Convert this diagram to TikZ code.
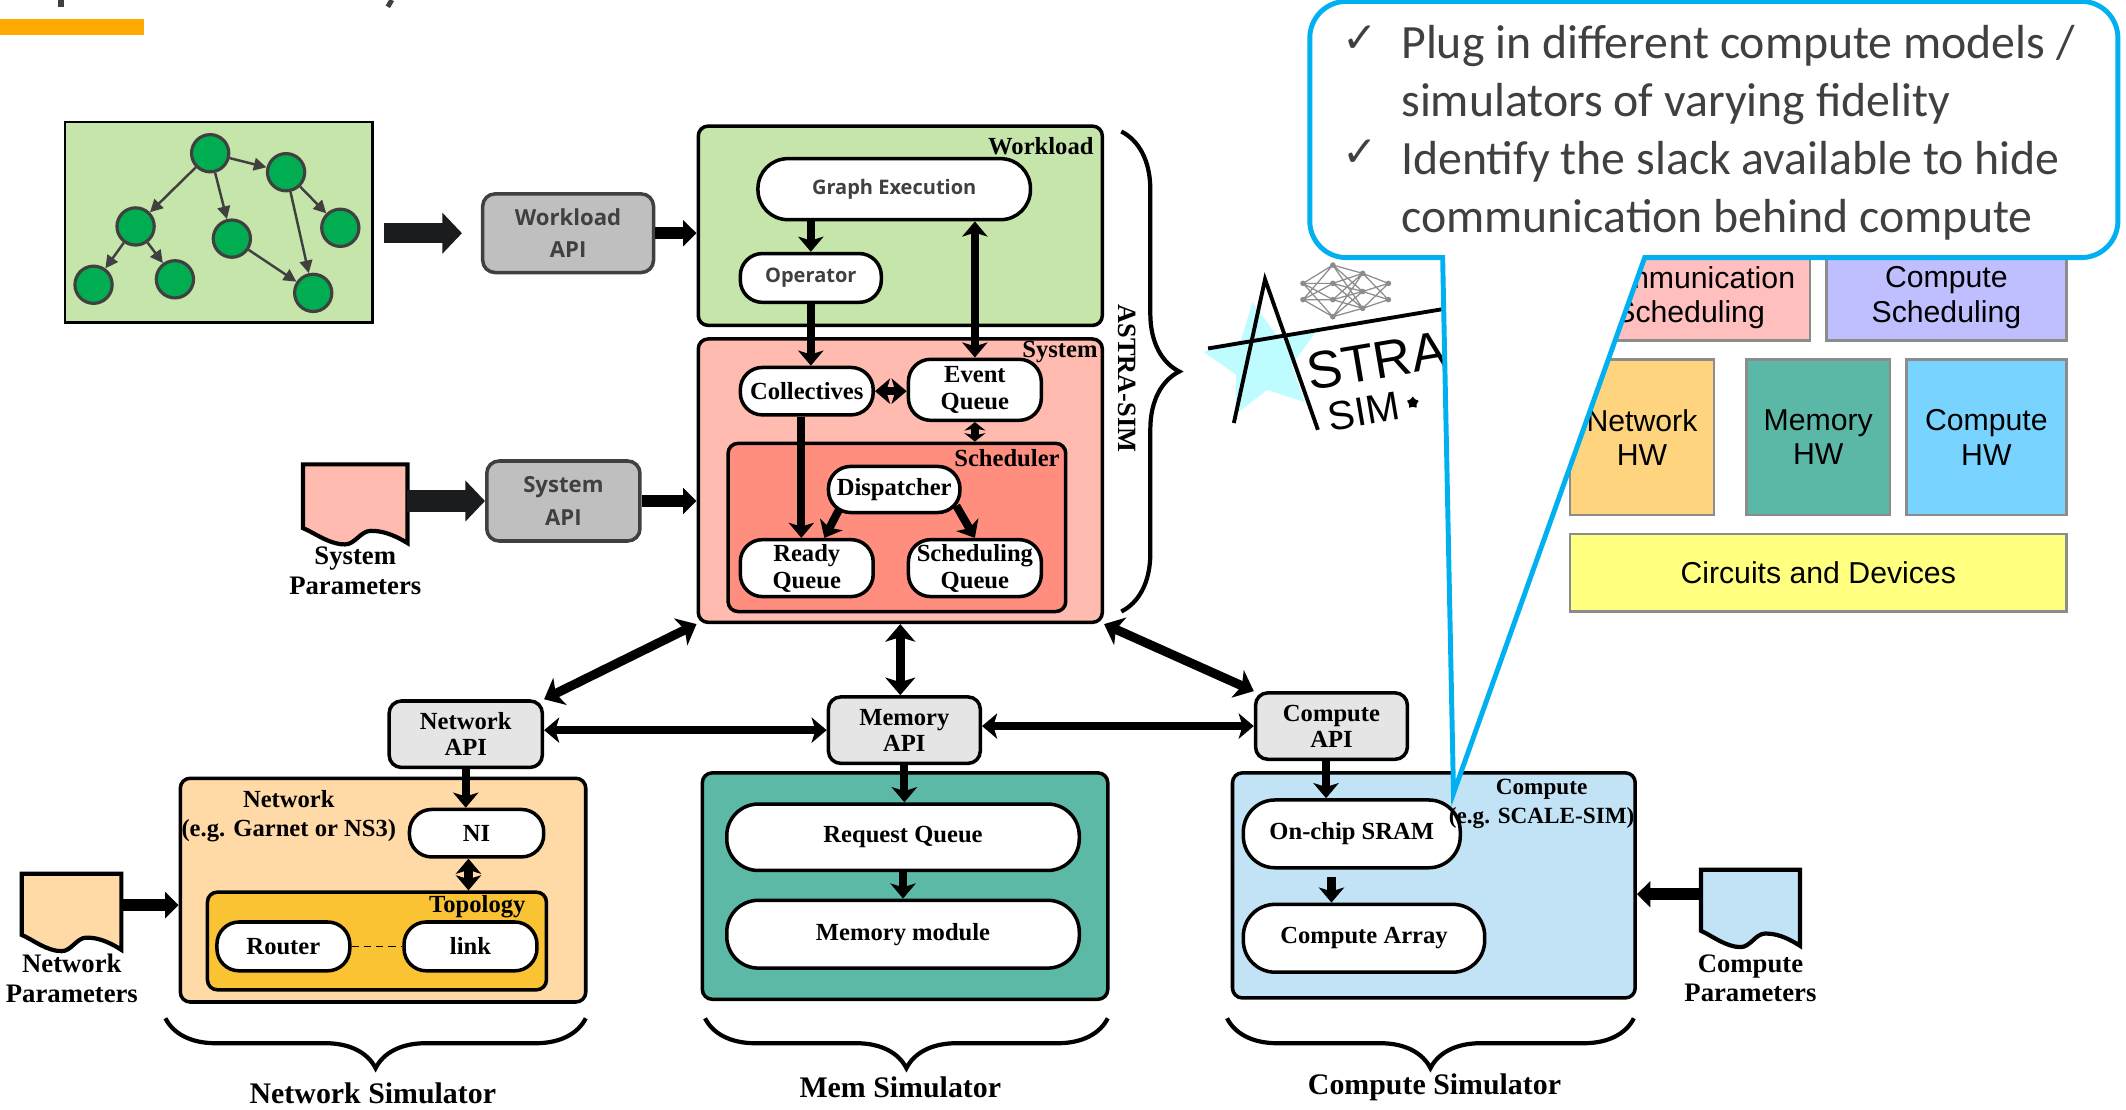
\documentclass[tikz,border=0pt]{standalone}
\usepackage{fontspec}
\setmainfont{Liberation Serif}
\newfontfamily\guifont{Open Sans}
\newfontfamily\notefont{Carlito}
\newfontfamily\layerfont{Liberation Sans}
\newfontfamily\symbfont{DejaVu Sans}
\usepackage{tikz}
\usetikzlibrary{arrows.meta,calc,fit,shapes.geometric,decorations.pathreplacing}

\definecolor{wlgreen}{HTML}{C5E5AB}
\definecolor{gnode}{HTML}{00AD50}
\definecolor{textgray}{HTML}{404040}
\definecolor{apigray}{HTML}{BFBFBF}
\definecolor{apilight}{HTML}{E5E5E5}
\definecolor{syspink}{HTML}{FFBBB0}
\definecolor{schedred}{HTML}{FF8E7E}
\definecolor{netorange}{HTML}{FFD9A6}
\definecolor{topoamber}{HTML}{FAC333}
\definecolor{memteal}{HTML}{5CB9A6}
\definecolor{compblue}{HTML}{C2E3F5}
\definecolor{blockblack}{HTML}{1A1C1E}
\definecolor{barorange}{HTML}{FFAA00}
\definecolor{calloutblue}{HTML}{00B0F0}
\definecolor{logocyan}{HTML}{BFFCFF}
\definecolor{netgray}{HTML}{8C8C8C}
\definecolor{layerpink}{HTML}{FFBFBF}
\definecolor{layerlilac}{HTML}{BFBFFF}
\definecolor{layerorange}{HTML}{FFD47F}
\definecolor{layerteal}{HTML}{5CB8A6}
\definecolor{layersky}{HTML}{78D4FF}
\definecolor{layeryellow}{HTML}{FFFF80}

% node size in picture units
\tikzset{span/.style 2 args={minimum width=#1*0.1356mm, minimum height=#2*0.1356mm}}

\tikzstyle{container} = [rectangle, draw=black, line width=1pt, rounded corners=2.8pt, inner sep=0pt]
\tikzstyle{graphbox} = [rectangle, draw=black, line width=0.8pt, fill=wlgreen, inner sep=0pt]
\tikzstyle{oval} = [rectangle, draw=black, line width=1pt, fill=white, rounded corners=6.3pt, inner sep=0pt, align=center, font=\fontsize{7}{7.6}\selectfont\bfseries]
\tikzstyle{wideoval} = [oval, rounded corners=9pt]
\tikzstyle{guioval} = [oval, text=textgray, font=\guifont\fontsize{5.7}{6.5}\selectfont\bfseries]
\tikzstyle{guiapi} = [rectangle, draw=textgray, line width=1pt, fill=apigray, rounded corners=3.5pt, inner sep=0pt, align=center, text=textgray, font=\guifont\fontsize{6.3}{9.2}\selectfont\bfseries]
\tikzstyle{api} = [rectangle, draw=black, line width=1pt, fill=apilight, rounded corners=3.5pt, inner sep=0pt, align=center, font=\fontsize{7}{7.4}\selectfont\bfseries]
\tikzstyle{boxtitle} = [inner sep=0pt, align=center, font=\fontsize{7}{8.1}\selectfont\bfseries]
\tikzstyle{paramtext} = [inner sep=0pt, align=center, font=\fontsize{7.6}{8.5}\selectfont\bfseries]
\tikzstyle{simtitle} = [inner sep=0pt, font=\fontsize{8.5}{9}\selectfont\bfseries]
\tikzstyle{docnode} = [rectangle, inner sep=0pt]
\tikzstyle{gvertex} = [circle, draw=textgray, line width=0.9pt, fill=gnode, minimum size=10.6pt, inner sep=0pt]
\tikzstyle{gedge} = [draw=textgray, line width=0.7pt, -{Triangle[length=3.6pt,width=3.6pt]}]
\tikzstyle{arrow} = [line width=2.3pt, -{Stealth[length=4.3pt,width=7.2pt,inset=1.1pt]}]
\tikzstyle{biarrow} = [line width=2.3pt, {Stealth[length=4.3pt,width=7.2pt,inset=1.1pt]}-{Stealth[length=4.3pt,width=7.2pt,inset=1.1pt]}]
\tikzstyle{shortbiarrow} = [line width=2.3pt, {Stealth[length=2.4pt,width=6pt,inset=0.6pt]}-{Stealth[length=2.4pt,width=6pt,inset=0.6pt]}]
\tikzstyle{bigbiarrow} = [line width=2.6pt, {Stealth[length=5pt,width=8.5pt,inset=1.3pt]}-{Stealth[length=5pt,width=8.5pt,inset=1.3pt]}]
\tikzstyle{apiarrow} = [line width=3.4pt, -{Triangle[length=3.8pt,width=7.3pt]}]
\tikzstyle{blockarrow} = [draw=blockblack, line width=5.6pt, -{Triangle[length=5.6pt,width=11.4pt]}]
\tikzstyle{simbrace} = [decorate, decoration={brace, amplitude=14.2pt}, line width=1.2pt]
\tikzstyle{layerbox} = [rectangle, draw=netgray, line width=0.7pt, inner sep=0pt, align=center, font=\layerfont\fontsize{8.6}{9.8}\selectfont]
\tikzstyle{notecallout} = [draw=calloutblue, line width=1.4pt, fill=white]
\tikzstyle{notetext} = [inner sep=0pt, anchor=base west, text=textgray, font=\notefont\fontsize{13.6}{16}\selectfont]
\tikzstyle{tick} = [inner sep=0pt, text=textgray, font=\symbfont\fontsize{12}{12}\selectfont]

% parameter sheet with a wavy bottom edge, drawn round a docnode
\newcommand{\paramsheet}[2]{%
  \draw[line width=1.2pt, fill=#2]
    (#1.north west) -- (#1.north east) -- (#1.south east)
    .. controls ($(#1.south west)!0.85!(#1.south east)+(0,-7)$) and ($(#1.south west)!0.75!(#1.south east)+(0,-9)$) .. ($(#1.south west)!0.65!(#1.south east)+(0,-9)$)
    .. controls ($(#1.south west)!0.55!(#1.south east)+(0,-9)$) and ($(#1.south west)!0.5!(#1.south east)+(0,1)$) .. ($(#1.south west)!0.4!(#1.south east)+(0,1)$)
    .. controls ($(#1.south west)!0.25!(#1.south east)+(0,1)$) and ($(#1.south west)!0.1!(#1.south east)+(0,-8)$) .. ($(#1.south west)+(0,-11)$)
    -- cycle;}

\begin{document}
\begin{tikzpicture}[x=0.1356mm, y=-0.1356mm]
        \useasboundingbox (0,0) rectangle (1568,818);
        \fill[white] (0,0) rectangle (1568,818);

        % title strip
        \fill[barorange] (0,14) rectangle (106,26);
        \fill[textgray] (43,0) rectangle (47,5);
        \draw[textgray, line width=1.4pt] (289,0) -- (286,5);

        % workload graph
        \node (graph) [graphbox, fit={(48,90) (275,238)}] {};
        \node (g1) [gvertex] at (155,113) {};
        \node (g2) [gvertex] at (211,127) {};
        \node (g3) [gvertex] at (100,167) {};
        \node (g4) [gvertex] at (171,176) {};
        \node (g5) [gvertex] at (251,168) {};
        \node (g6) [gvertex] at (69,210) {};
        \node (g7) [gvertex] at (129,206) {};
        \node (g8) [gvertex] at (231,216) {};
        \draw [gedge] (g1) -- (g2);
        \draw [gedge] (g1) -- (g3);
        \draw [gedge] (g1) -- (g4);
        \draw [gedge] (g2) -- (g5);
        \draw [gedge] (g2) -- (g8);
        \draw [gedge] (g3) -- (g6);
        \draw [gedge] (g3) -- (g7);
        \draw [gedge] (g4) -- (g8);

        % front-end APIs
        \node (wlapi) [guiapi, span={126}{58}] at (419,172) {Workload\\API};
        \node (syspar) [docnode, fit={(224,343) (300,400)}] {};
        \paramsheet{syspar}{syspink}
        \node (sysparlbl) [paramtext] at (262,421) {System\\Parameters};
        \node (sysapi) [guiapi, span={113}{59}] at (415.5,369.5) {System\\API};

        % workload layer
        \node (workload) [container, fill=wlgreen, fit={(515,93) (813,240)}] {};
        \node (wltitle) [boxtitle, anchor=base east] at (807,114) {Workload};
        \node (ge) [guioval, rounded corners=8.5pt, span={201}{45}] at (659.5,139.5) {Graph Execution};
        \node (op) [guioval, span={104}{36}] at (598,205) {Operator};

        % system layer
        \node (system) [container, fill=syspink, fit={(515,250) (813,459)}] {};
        \node (systitle) [boxtitle, anchor=base east] at (810,264) {System};
        \node (coll) [oval, span={98}{35}] at (595,288.5) {Collectives};
        \node (eq) [oval, span={98}{45}] at (719,287.5) {Event\\Queue};
        \node (sched) [container, fill=schedred, fit={(537,327) (786,451)}] {};
        \node (schedtitle) [boxtitle, anchor=base east] at (782,344) {Scheduler};
        \node (disp) [oval, span={97}{34}] at (659.5,361) {Dispatcher};
        \node (ready) [oval, span={98}{42}] at (595,419) {Ready\\Queue};
        \node (sq) [oval, span={98}{42}] at (719,419) {Scheduling\\Queue};

        \draw[simbrace, decoration={brace, amplitude=16.5pt}] (827,97) -- (827,451);
        \node (astra) [boxtitle, rotate=-90, font=\fontsize{7.5}{8}\selectfont\bfseries] at (831,279) {ASTRA-SIM};

        % back-end APIs
        \node (netapi) [api, span={113}{49}] at (343.5,541.5) {Network\\API};
        \node (memapi) [api, span={112}{49}] at (667,538.5) {Memory\\API};
        \node (compapi) [api, span={112}{49}] at (982,535.5) {Compute\\API};

        % network simulator
        \node (network) [container, fill=netorange, fit={(133,574) (432,739)}] {};
        \node (nettitle) [boxtitle] at (213,602) {Network\\(e.g. Garnet or NS3)};
        \node (ni) [oval, span={99}{35}] at (351.5,614.5) {NI};
        \node (topo) [container, fill=topoamber, fit={(153,658) (403,730)}] {};
        \node (topotitle) [boxtitle, anchor=base east] at (388,673) {Topology};
        \node (router) [oval, span={98}{36}] at (209,698) {Router};
        \node (link) [oval, span={98}{36}] at (347,698) {link};
        \node (netpar) [docnode, fit={(16.5,645) (89,700)}] {};
        \paramsheet{netpar}{netorange}
        \node (netparlbl) [paramtext] at (53,721.5) {Network\\Parameters};

        % memory simulator
        \node (memory) [container, fill=memteal, fit={(518,570) (817,737)}] {};
        \node (rq) [wideoval, span={260}{49}] at (666,617.5) {Request Queue};
        \node (mm) [wideoval, span={260}{50}] at (666,689) {Memory module};

        % compute simulator
        \node (compute) [container, fill=compblue, fit={(909,570) (1206,736)}] {};
        \node (sram) [wideoval, span={160}{50}] at (997,615) {On-chip SRAM};
        \node (carr) [wideoval, span={178}{50}] at (1006,692) {Compute Array};
        \node (comptitle) [boxtitle, font=\fontsize{6.6}{8.1}\selectfont\bfseries] at (1137,593) {Compute\\(e.g. SCALE-SIM)};
        \node (comppar) [docnode, fit={(1255,642) (1327,697)}] {};
        \paramsheet{comppar}{compblue}
        \node (compparlbl) [paramtext] at (1291,721.5) {Compute\\Parameters};

        % simulator braces
        \draw[simbrace] (432,751) -- (122,751);
        \node (netsim) [simtitle] at (275,806) {Network Simulator};
        \draw[simbrace] (817,751) -- (520,751);
        \node (memsim) [simtitle] at (664,802) {Mem Simulator};
        \draw[simbrace] (1205,751) -- (905,751);
        \node (compsim) [simtitle] at (1058,802) {Compute Simulator};

        % Add arrows connecting the nodes
        \draw[blockarrow, shorten <=2.7pt, shorten >=5.4pt] (graph.east |- wlapi) -- (wlapi.west);
        \draw[apiarrow] (wlapi.east) -- (wlapi.east -| workload.west);
        \draw[blockarrow, line width=6pt] (syspar.east |- sysapi) -- (sysapi.west);
        \draw[apiarrow] (sysapi.east) -- (sysapi.east -| system.west);

        \draw[arrow] (op.north |- ge.south) -- (op.north);
        \draw[arrow] (op.south) -- (op.south |- coll.north);
        \draw[biarrow] (ge.south -| eq.north) -- (eq.north);
        \draw[biarrow] (coll.east) -- (coll.east -| eq.west);
        \draw[shortbiarrow] (eq.south) -- (eq.south |- sched.north);
        \draw[arrow] ($(coll.south)+(-4,0)$) -- ($(ready.north)+(-4,0)$);
        \draw[arrow] ($(disp.west)+(9,15)$) -- ($(ready.north)+(13,0)$);
        \draw[arrow] ($(disp.east)+(-4,12)$) -- (sq.north);

        \draw[bigbiarrow] (system.south west) -- (netapi.north east);
        \draw[bigbiarrow] (system.south) -- (system.south |- memapi.north);
        \draw[bigbiarrow] (system.south east) -- (compapi.north west);
        \draw[biarrow, line width=2.4pt] (netapi.east |- memapi) -- (memapi.west);
        \draw[biarrow, line width=2.4pt] (memapi.east |- compapi) -- (compapi.west);

        \draw[arrow] (netapi.south) -- (netapi.south |- ni.north);
        \draw[biarrow] ($(ni.south)+(-6,0)$) -- ($(ni.south |- topo.north)+(-6,0)$);
        \draw[line width=0.5pt, dash pattern=on 2pt off 1.5pt] (router.east) -- (link.west);
        \coordinate (netparout) at ($(netpar.east)+(0,-5)$);
        \draw[apiarrow] (netparout) -- (netparout -| network.west);

        \draw[arrow] (memapi.south) -- (memapi.south |- rq.north);
        \draw[arrow] (rq.south) -- (mm.north);

        \draw[arrow] ($(compapi.south)+(-4,0)$) -- ($(compapi.south |- sram.north)+(-4,0)$);
        \draw[arrow, shorten <=2pt] ($(sram.south)+(-15,0)$) -- ($(sram.south |- carr.north)+(-15,0)$);
        \coordinate (compparin) at ($(comppar.west)+(0,-10)$);
        \draw[apiarrow] (compparin) -- (compparin -| compute.east);

        % layer stack
        \node (commsched) [layerbox, fill=layerpink, span={177}{63}] at (1246.5,219.5) {Communication\\Scheduling};
        \node (compsched) [layerbox, fill=layerlilac, span={177}{63}] at (1435.5,219.5) {Compute\\Scheduling};
        \node (nethw) [layerbox, fill=layerorange, span={106}{115}] at (1211,322.5) {Network\\HW};
        \node (memhw) [layerbox, fill=layerteal, span={106}{115}] at (1341,322.5) {Memory\\HW};
        \node (comphw) [layerbox, fill=layersky, span={118}{115}] at (1465,322.5) {Compute\\HW};
        \node (circuits) [layerbox, fill=layeryellow, span={366}{57}] at (1341,422.5) {Circuits and Devices};

        % logo
        \node (logostar) [star, star points=5, star point ratio=2, minimum size=33.8pt, inner sep=0pt, fill=logocyan, rotate=9.6] at (931,266) {};
        \coordinate (na1) at (961,209);
        \coordinate (na2) at (961,221);
        \coordinate (nb1) at (983,195.5);
        \coordinate (nb2) at (983,209);
        \coordinate (nb3) at (983,221);
        \coordinate (nb4) at (983,233.6);
        \coordinate (nc1) at (1005,201.6);
        \coordinate (nc2) at (1005,215);
        \coordinate (nc3) at (1005,227.4);
        \coordinate (nd1) at (1024,209);
        \coordinate (nd2) at (1024,221);
        \draw[netgray, line width=0.35pt] (na1) -- (nb1) (na1) -- (nb2) (na1) -- (nb3) (na1) -- (nb4)
            (na2) -- (nb1) (na2) -- (nb2) (na2) -- (nb3) (na2) -- (nb4)
            (nb1) -- (nc1) (nb1) -- (nc2) (nb1) -- (nc3) (nb2) -- (nc1) (nb2) -- (nc2) (nb2) -- (nc3)
            (nb3) -- (nc1) (nb3) -- (nc2) (nb3) -- (nc3) (nb4) -- (nc1) (nb4) -- (nc2) (nb4) -- (nc3)
            (nc1) -- (nd1) (nc1) -- (nd2) (nc2) -- (nd1) (nc2) -- (nd2) (nc3) -- (nd1) (nc3) -- (nd2);
        \fill[netgray] (na1) circle (0.8pt) (na2) circle (0.8pt) (nb1) circle (0.8pt) (nb2) circle (0.8pt)
            (nb3) circle (0.8pt) (nb4) circle (0.8pt) (nc1) circle (0.8pt) (nc2) circle (0.8pt)
            (nc3) circle (0.8pt) (nd1) circle (0.8pt) (nd2) circle (0.8pt);
        \draw[line width=1.1pt] (910,312) -- (933,206) -- (972,317);
        \draw[line width=1.1pt] (891,257) -- (1064,228);
        \node (stra) [anchor=base west, rotate=9.6, inner sep=0pt, font=\layerfont\fontsize{15}{15}\selectfont] at (966,288) {STRA};
        \node (sim) [anchor=base west, rotate=9.6, inner sep=0pt, font=\layerfont\fontsize{11.5}{11.5}\selectfont] at (981,318) {SIM};
        \node (simstar) [star, star points=5, fill=black, minimum size=3.5pt, inner sep=0pt] at (1042,297) {};

        % callout
        \draw[notecallout] (1072,585) -- (1064,190) -- (993,190) arc[start angle=270, end angle=180, radius=3.661mm]
            -- (966,28) arc[start angle=180, end angle=90, radius=3.661mm]
            -- (1535,1) arc[start angle=90, end angle=0, radius=3.661mm]
            -- (1562,163) arc[start angle=0, end angle=-90, radius=3.661mm]
            -- (1213,190) -- cycle;
        \node (tick1) [tick] at (1003,29) {✓};
        \node (tick2) [tick] at (1003,113) {✓};
        \node (note1) [notetext] at (1033,43.5) {Plug in different compute models /};
        \node (note2) [notetext] at (1033,86) {simulators of varying fidelity};
        \node (note3) [notetext] at (1033,129) {Identify the slack available to hide};
        \node (note4) [notetext] at (1033,171.5) {communication behind compute};
\end{tikzpicture}
\end{document}
